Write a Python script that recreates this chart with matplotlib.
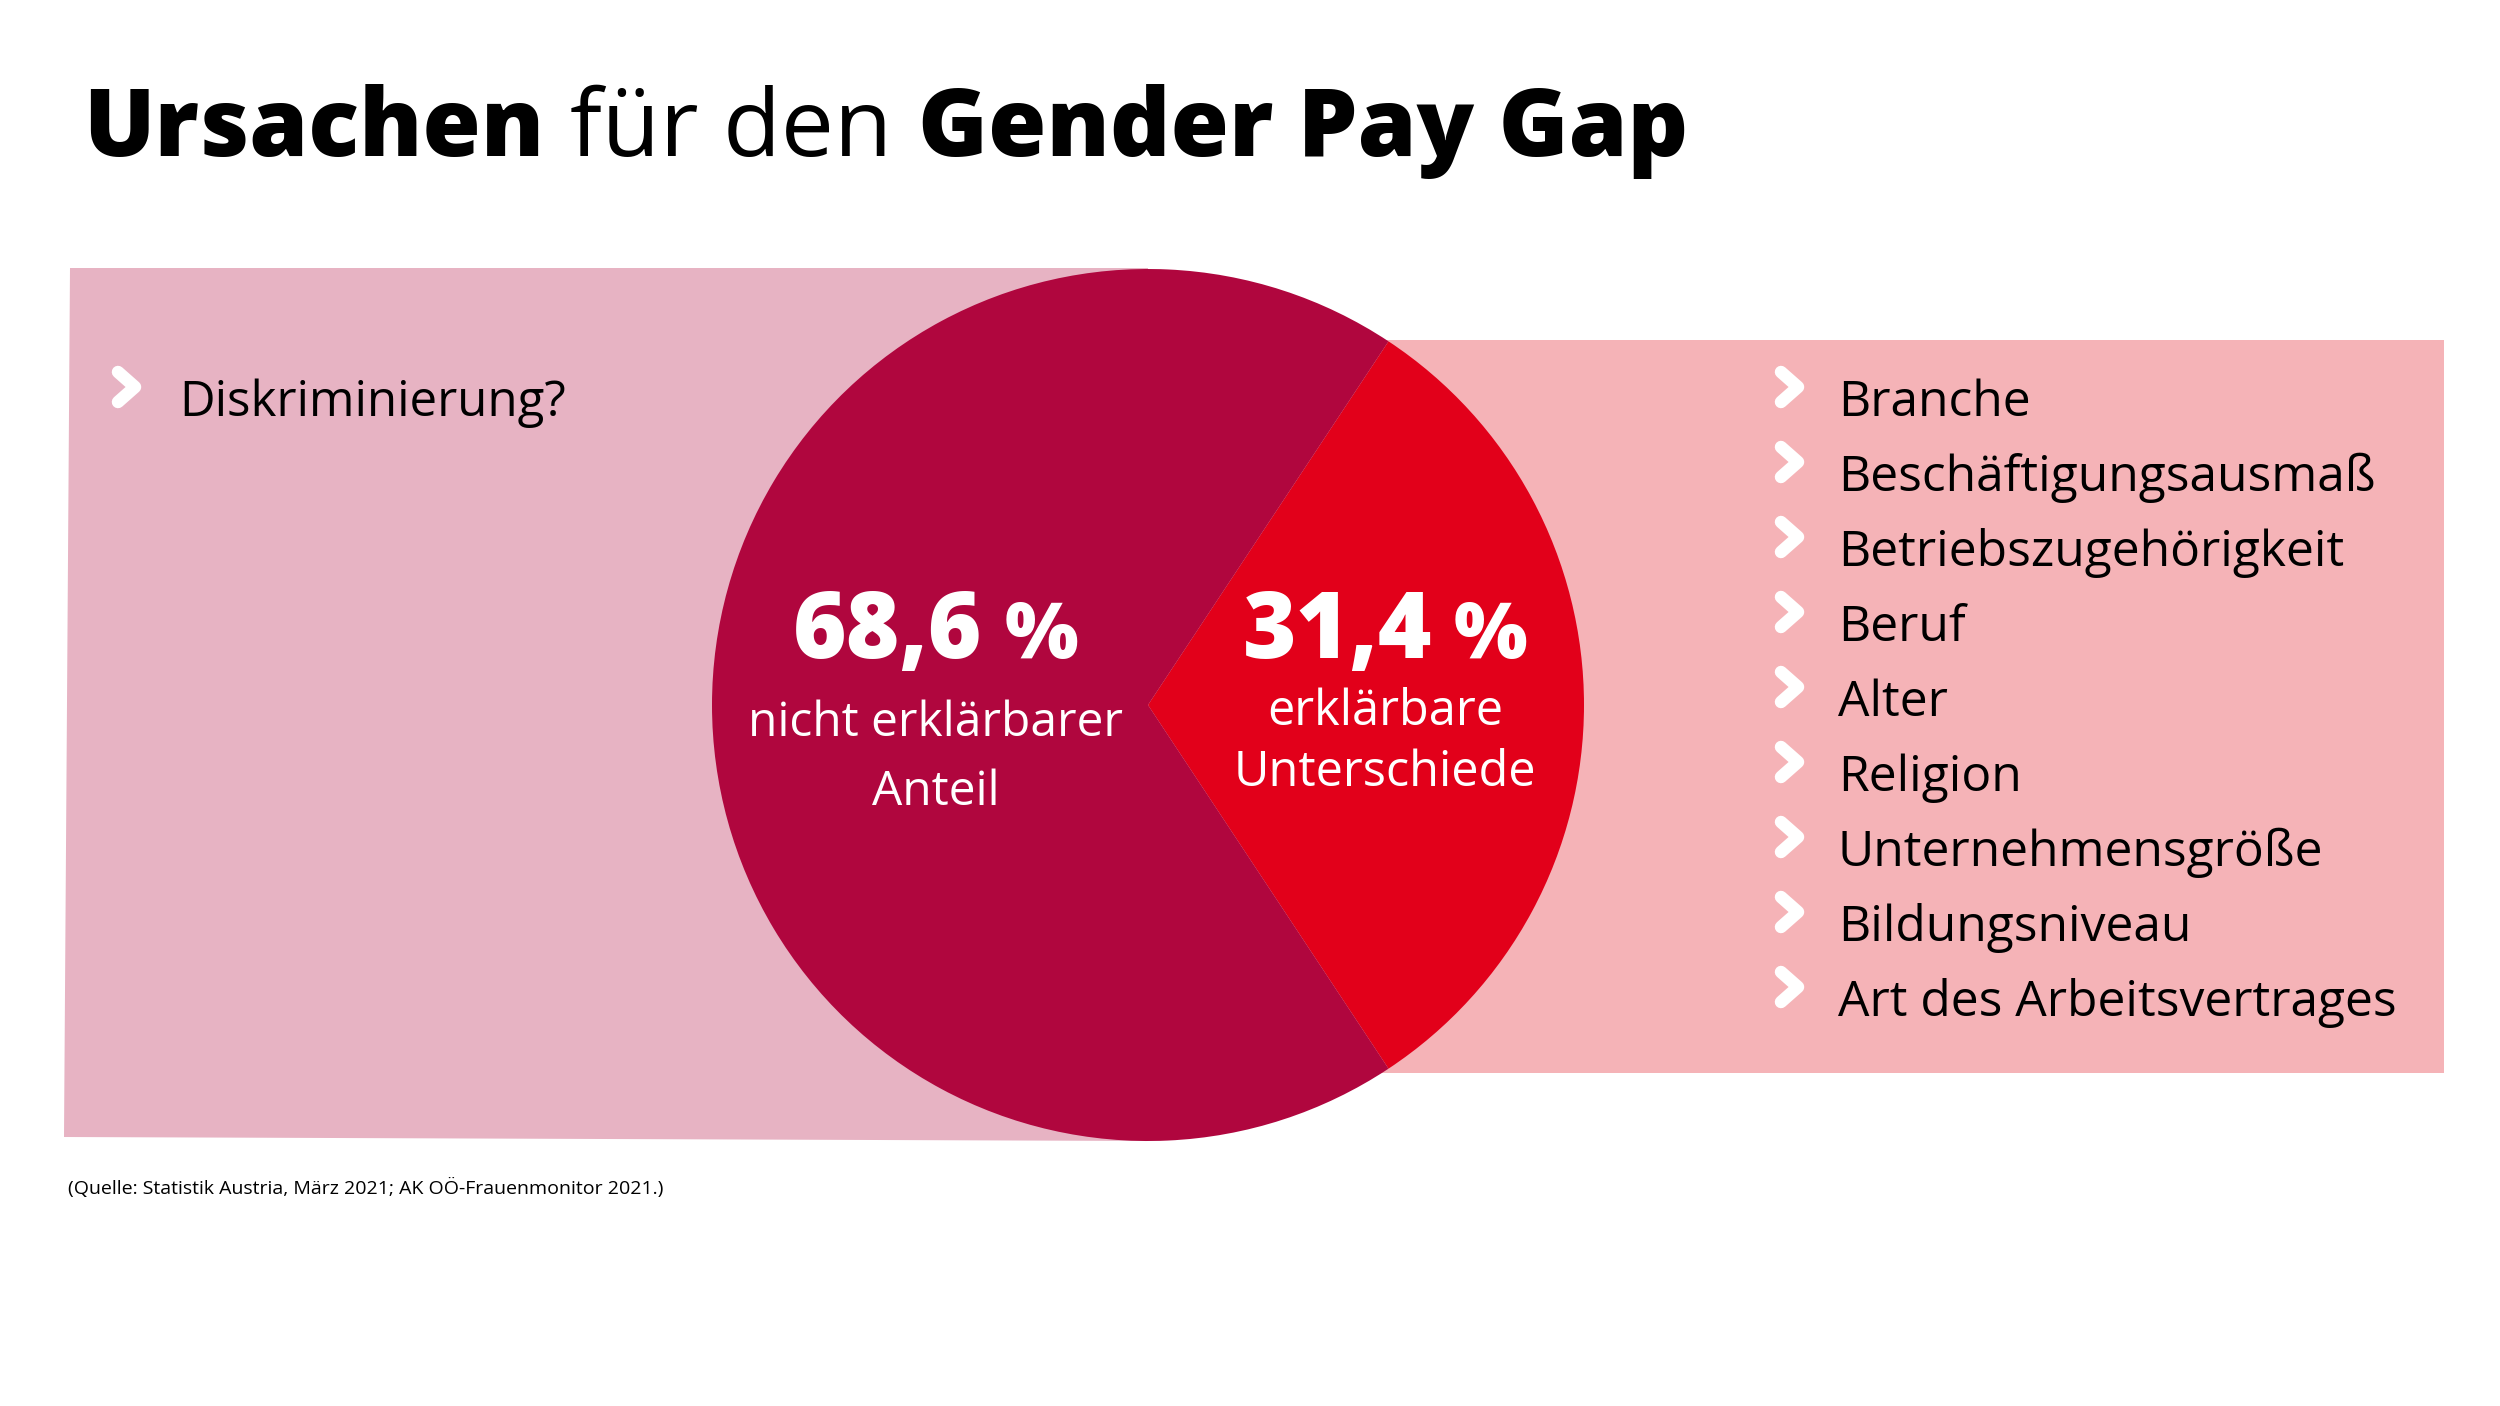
import matplotlib
matplotlib.use("Agg")
import matplotlib.pyplot as plt

# data
shares = [31.4, 68.6]
share_labels = ["31,4 %", "68,6 %"]
share_texts = [["erklärbare", "Unterschiede"], ["nicht erklärbarer", "Anteil"]]
slice_colors = ["#E2001A", "#B0063E"]
left_items = ["Diskriminierung?"]
right_items = ["Branche", "Beschäftigungsausmaß", "Betriebszugehörigkeit", "Beruf",
               "Alter", "Religion", "Unternehmensgröße", "Bildungsniveau",
               "Art des Arbeitsvertrages"]
source = "(Quelle: Statistik Austria, März 2021; AK OÖ-Frauenmonitor 2021.)"

FONT = ["Open Sans", "DejaVu Sans"]
W, H = 2500, 1406

fig = plt.figure(figsize=(25, 14.06), dpi=100)
ax = fig.add_axes([0, 0, 1, 1])

cx, cy, r = 1148, 705, 436

# background panels
ax.fill([70, cx, cx, 64], [268, 268, 1141, 1137], color="#E7B3C3", lw=0, zorder=1)
ax.fill([cx, 2444, 2444, cx], [340, 340, 1073, 1073], color="#F5B3B7", lw=0, zorder=1)

# pie
start = -shares[0] / 100 * 360 / 2
wedges, _ = ax.pie(shares, colors=slice_colors, startangle=start, center=(cx, cy),
                   radius=r, wedgeprops=dict(linewidth=0))
for w in wedges:
    w.set_zorder(2)

ax.set_xlim(0, W)
ax.set_ylim(H, 0)
ax.axis("off")

fig.canvas.draw()
rend = fig.canvas.get_renderer()


def width_px(t):
    return t.get_window_extent(rend).width


# title
x = 83
for txt, wt in [("Ursachen", "heavy"), ("für den", "normal"), ("Gender Pay Gap", "heavy")]:
    t = ax.text(x, 156, txt, fontsize=68, fontweight=wt, family=FONT,
                color="black", va="baseline", ha="left", zorder=5)
    x += width_px(t) + 26


def chevron(x0, yc):
    ax.plot([x0, x0 + 17, x0], [yc - 15, yc, yc + 15], color="white", lw=9,
            solid_capstyle="round", solid_joinstyle="round", zorder=4)


# left list
for i, item in enumerate(left_items):
    base = 416 + i * 75
    chevron(118, base - 29)
    ax.text(179, base, item, fontsize=35.5, family=FONT, color="black",
            va="baseline", ha="left", zorder=5)

# right list
for i, item in enumerate(right_items):
    base = 416 + i * 75
    chevron(1781, base - 29)
    ax.text(1838, base, item, fontsize=35.8, family=FONT, color="black",
            va="baseline", ha="left", zorder=5)


# pie labels
def pct_label(xc, base, label):
    num, pct = label.split(" ")
    t1 = ax.text(0, base, num, fontsize=66, fontweight="heavy", family=FONT,
                 color="white", va="baseline", ha="left", zorder=5)
    t2 = ax.text(0, base, pct, fontsize=56, fontweight="heavy", family=FONT,
                 color="white", va="baseline", ha="left", zorder=5)
    w1, w2 = width_px(t1), width_px(t2)
    gap = 22
    x0 = xc - (w1 + gap + w2) / 2
    t1.set_x(x0)
    t2.set_x(x0 + w1 + gap)


pct_label(1385, 658, share_labels[0])
ax.text(1385, 725, share_texts[0][0], fontsize=35, family=FONT, color="white",
        va="baseline", ha="center", zorder=5)
ax.text(1385, 786, share_texts[0][1], fontsize=35, family=FONT, color="white",
        va="baseline", ha="center", zorder=5)

pct_label(936, 658, share_labels[1])
ax.text(936, 736, share_texts[1][0], fontsize=34.5, family=FONT, color="white",
        va="baseline", ha="center", zorder=5)
ax.text(936, 805, share_texts[1][1], fontsize=34.5, family=FONT, color="white",
        va="baseline", ha="center", zorder=5)

# source
ax.text(68, 1194, source, fontsize=14, family=FONT, color="black",
        va="baseline", ha="left", zorder=5)

fig.savefig("out.png", dpi=100, facecolor="white")
